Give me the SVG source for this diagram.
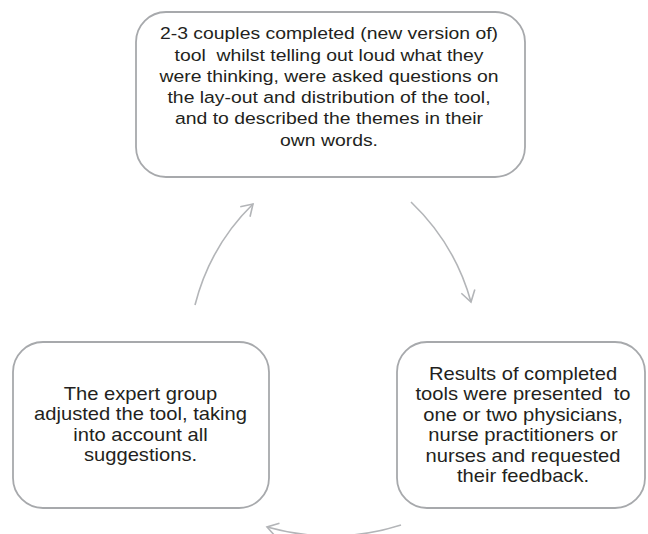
<svg xmlns="http://www.w3.org/2000/svg" width="648" height="534" viewBox="0 0 648 534">
<defs>
<style>
.box{fill:#ffffff;stroke:#a7a9ac;stroke-width:1.8}
.conn{fill:none;stroke:#b3b5b8;stroke-width:1.6}
.t{font-family:"Liberation Sans",Arial,sans-serif;fill:#231f20;text-anchor:middle}
.t1{font-size:17px}
.t2{font-size:18px}
</style>
<marker id="ah" markerUnits="userSpaceOnUse" markerWidth="24" markerHeight="24" refX="12" refY="12" orient="auto">
<path d="M1,5 L12,12 L1,19" fill="none" stroke="#b3b5b8" stroke-width="1.6" stroke-linejoin="miter"/>
</marker>
</defs>
<rect width="648" height="534" fill="#ffffff"/>
<g id="connectors">
<path class="conn" d="M195,305 Q210,246 253,204" marker-end="url(#ah)"/>
<path class="conn" d="M411,202 Q455,244 471,302" marker-end="url(#ah)"/>
<path class="conn" d="M401,525 Q335,546 267,527" marker-end="url(#ah)"/>
</g>
<g id="node-top">
<rect class="box" x="136" y="12" width="389" height="165" rx="30"/>
<g transform="translate(329,0) scale(1.14,1)">
<text class="t t1" xml:space="preserve" x="0" y="39.3">2-3 couples completed (new version of)</text>
<text class="t t1" xml:space="preserve" x="0" y="60.6">tool  whilst telling out loud what they</text>
<text class="t t1" xml:space="preserve" x="0" y="81.9">were thinking, were asked questions on</text>
<text class="t t1" xml:space="preserve" x="0" y="103.2">the lay-out and distribution of the tool,</text>
<text class="t t1" xml:space="preserve" x="0" y="124.5">and to described the themes in their</text>
<text class="t t1" xml:space="preserve" x="0" y="145.8">own words.</text>
</g>
</g>
<g id="node-right">
<rect class="box" x="397" y="342" width="248" height="166" rx="30"/>
<g transform="translate(523,0) scale(1.12,1)">
<text class="t t2" xml:space="preserve" x="0" y="380">Results of completed</text>
<text class="t t2" xml:space="preserve" x="0" y="400.5">tools were presented  to</text>
<text class="t t2" xml:space="preserve" x="0" y="421">one or two physicians,</text>
<text class="t t2" xml:space="preserve" x="0" y="441.5">nurse practitioners or</text>
<text class="t t2" xml:space="preserve" x="0" y="462">nurses and requested</text>
<text class="t t2" xml:space="preserve" x="0" y="482.5">their feedback.</text>
</g>
</g>
<g id="node-left">
<rect class="box" x="13" y="342" width="256" height="166" rx="30"/>
<g transform="translate(140.5,0) scale(1.12,1)">
<text class="t t2" xml:space="preserve" x="0" y="400">The expert group</text>
<text class="t t2" xml:space="preserve" x="0" y="420.5">adjusted the tool, taking</text>
<text class="t t2" xml:space="preserve" x="0" y="441">into account all</text>
<text class="t t2" xml:space="preserve" x="0" y="461.5">suggestions.</text>
</g>
</g>
</svg>
